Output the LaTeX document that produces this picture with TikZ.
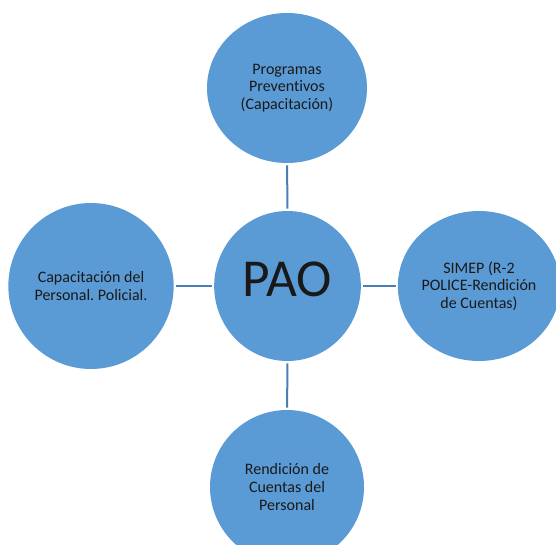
\documentclass[tikz,border=0pt]{standalone}
\usepackage{fontspec}
\setmainfont{Carlito}[Ligatures=NoCommon]
\frenchspacing
\usetikzlibrary{shapes.geometric}
\definecolor{bubble}{HTML}{5B9BD5}
\definecolor{link}{HTML}{4A7EB5}
\tikzset{
	bubble/.style={ellipse,fill=bubble,inner sep=0,align=center,font=\fontsize{12}{13.3}\selectfont,text=black!90},
	link/.style={draw=link,line width=1.5pt,shorten >=1.5pt,shorten <=1.5pt}
}
\begin{document}
\begin{tikzpicture}[x=0.75pt,y=-0.75pt]
		\useasboundingbox (0,0) rectangle (556,545);
		\node [bubble,minimum width=110pt,minimum height=112.5pt,font=\fontsize{40}{44}\selectfont,text height=26pt,text depth=10pt] at (287.5,286) (pao) {PAO};
		\node [bubble,minimum width=120pt,minimum height=112.5pt] at (287,88) (prog) {Programas\\Preventivos\\(Capacitación)};
		\node [bubble,minimum width=124pt,minimum height=124.5pt] at (91,286) (capa) {Capacitación del\\Personal. Policial.};
		\node [bubble,minimum width=120pt,minimum height=112.5pt] at (479,286) (simep) {SIMEP (R-2\\POLICE-Rendición\\de Cuentas)};
		\node [bubble,minimum width=115.5pt,minimum height=115.5pt] at (287,487) (rend) {Rendición de\\Cuentas del\\Personal};
		% connectors
		\foreach \n in {prog,capa,simep,rend}
			\draw [link] (\n) -- (pao);
\end{tikzpicture}
\end{document}
